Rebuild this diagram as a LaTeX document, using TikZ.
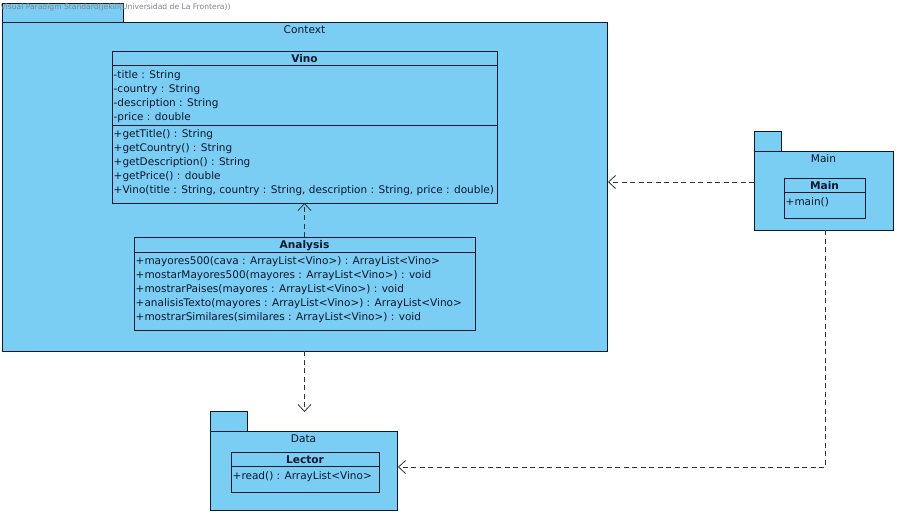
\documentclass[tikz,border=0pt]{standalone}
\usepackage{fontspec}
\setmainfont{DejaVu Sans}
\usetikzlibrary{arrows.meta}
\definecolor{pkgfill}{RGB}{122,206,244}
\definecolor{umlline}{RGB}{16,24,48}
\definecolor{umltext}{RGB}{14,22,46}
\definecolor{stamp}{RGB}{130,130,140}
\tikzset{
  box/.style={draw=umlline, fill=pkgfill, line width=0.9pt, inner sep=0pt, outer sep=0pt, anchor=north west},
  pkgname/.style={text=umltext, font=\fontsize{10.6}{12}\selectfont, inner sep=0pt, yshift=-1pt},
  clsname/.style={text=umltext, font=\fontsize{10.6}{12}\selectfont\bfseries, inner sep=0pt, yshift=-1pt},
  member/.style={text=umltext, font=\fontsize{10.5}{12}\selectfont, inner sep=0pt, anchor=west, text height=8pt, text depth=2.5pt, yshift=-1.5pt},
  sep/.style={draw=umlline, line width=0.9pt},
  dep/.style={draw=black!80, line width=0.8pt, dash pattern=on 5pt off 3.5pt, -{Straight Barb[length=7pt,width=13pt,line width=0.8pt]}},
}
\begin{document}
\begin{tikzpicture}[x=1pt,y=-1pt]
\useasboundingbox[fill=white] (0,0) rectangle (898,515);

% Context package
\node[box, minimum width=121pt, minimum height=19pt] (ctxtab) at (2,3) {};
\node[box, minimum width=605pt, minimum height=329pt] (context) at (2,22) {};
\node[pkgname] (ctxlabel) at (304.5,29) {Context};
\node[anchor=west, inner sep=0pt, text=stamp, font=\fontsize{7.6}{8}\selectfont] (stampline) at (0.5,7.5) {Visual Paradigm Standard(jekill(Universidad de La Frontera))};

% Class Vino
\node[box, minimum width=385pt, minimum height=152pt] (vino) at (112,51) {};
\node[clsname] (vinoname) at (304.5,58) {Vino};
\draw[sep] (112,65) -- (497,65);
\draw[sep] (112,125) -- (497,125);
\node[member] (v1) at (113.5,74) {-title : String};
\node[member] (v2) at (113.5,88) {-country : String};
\node[member] (v3) at (113.5,102) {-description : String};
\node[member] (v4) at (113.5,116) {-price : double};
\node[member] (v5) at (113.5,133) {+getTitle() : String};
\node[member] (v6) at (113.5,147) {+getCountry() : String};
\node[member] (v7) at (113.5,161) {+getDescription() : String};
\node[member] (v8) at (113.5,175) {+getPrice() : double};
\node[member] (v9) at (113.5,189) {+Vino(title : String, country : String, description : String, price : double)};

% Class Analysis
\node[box, minimum width=341pt, minimum height=93pt] (analysis) at (134,237) {};
\node[clsname] (analysisname) at (304.5,244.5) {Analysis};
\draw[sep] (134,252) -- (475,252);
\node[member] (a1) at (135.5,260) {+mayores500(cava : ArrayList<Vino>) : ArrayList<Vino>};
\node[member] (a2) at (135.5,274) {+mostarMayores500(mayores : ArrayList<Vino>) : void};
\node[member] (a3) at (135.5,288) {+mostrarPaises(mayores : ArrayList<Vino>) : void};
\node[member] (a4) at (135.5,302) {+analisisTexto(mayores : ArrayList<Vino>) : ArrayList<Vino>};
\node[member] (a5) at (135.5,316) {+mostrarSimilares(similares : ArrayList<Vino>) : void};

% Main package
\node[box, minimum width=27pt, minimum height=20pt] (maintab) at (754,131) {};
\node[box, minimum width=139pt, minimum height=79pt] (mainpkg) at (754,151) {};
\node[pkgname] (mainlabel) at (823.5,158) {Main};
\node[box, minimum width=81pt, minimum height=40pt] (maincls) at (784,178) {};
\node[clsname] (mainclsname) at (824.5,185) {Main};
\draw[sep] (784,192) -- (865,192);
\node[member] (m1) at (785.5,201) {+main()};

% Data package
\node[box, minimum width=37pt, minimum height=20pt] (datatab) at (210,411) {};
\node[box, minimum width=187pt, minimum height=79pt] (datapkg) at (210,431) {};
\node[pkgname] (datalabel) at (303.5,438) {Data};
\node[box, minimum width=148pt, minimum height=40pt] (lector) at (231,452) {};
\node[clsname] (lectorname) at (305,459) {Lector};
\draw[sep] (231,466) -- (379,466);
\node[member] (l1) at (232.5,475) {+read() : ArrayList<Vino>};

% Dependencies
\coordinate (mainout) at (754,182);
\coordinate (datain) at (398,467);
\draw[dep] (analysis.north) -- (vino.south);
\draw[dep] (context.south) -- ([yshift=-1pt]datatab.north -| context.south);
\draw[dep] (mainout) -- ([xshift=1pt]context.east |- mainout);
\draw[dep] ([xshift=1.5pt]mainpkg.south) |- (datain);
\end{tikzpicture}
\end{document}
